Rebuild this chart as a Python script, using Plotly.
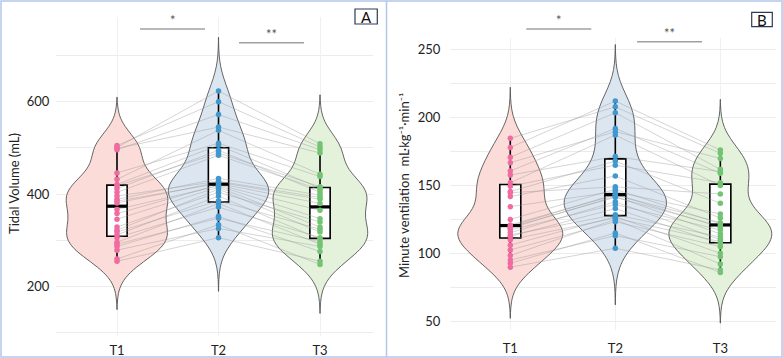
import numpy as np
import plotly.graph_objects as go

# ---------------- data ----------------
groups = ["T1", "T2", "T3"]

# Panel A: Tidal Volume (mL), one value per subject (same subject order in each list)
tv_t1 = [255, 260, 279, 287, 292, 296, 306, 312, 318, 322, 329, 346, 358, 367,
         381, 385, 389, 396, 404, 412, 418, 421, 432, 446, 496, 499, 501, 505]
tv_t2 = [306, 334, 326, 352, 348, 380, 372, 396, 386, 411, 404, 415, 420, 418,
         426, 423, 434, 428, 484, 495, 489, 506, 538, 510, 572, 545, 623, 600]
tv_t3 = [255, 248, 287, 276, 297, 292, 306, 303, 324, 318, 340, 329, 365, 347,
         389, 380, 398, 393, 410, 404, 416, 413, 443, 438, 496, 489, 509, 502]

# Panel B: Minute ventilation (mL·kg-1·min-1)
mv_t1 = [89.7, 92.6, 95, 98.3, 102.5, 106, 110, 112.5, 113.5, 115.2, 117.2, 118.5, 119.2, 120,
         120.9, 125, 134.4, 141.8, 144.7, 145.5, 149.5, 152, 157.7, 160.7, 166.8, 170.8, 178, 184.8]
mv_t2 = [103.7, 115, 113, 125, 123.3, 127, 126, 133, 128.5, 138, 136, 142, 141.3, 143.5,
         143, 147.2, 145.5, 157, 149, 168, 165, 187.2, 171.3, 192.1, 189.7, 203.7, 212.3, 208]
mv_t3 = [87.7, 85.8, 97.5, 92, 104.9, 100, 108.6, 107, 112, 110, 117.2, 114.3, 120, 119,
         122.6, 121.8, 129, 126, 143.7, 136.9, 152, 150, 160.2, 159, 170, 161.9, 176.2, 173.7]

sig_labels = ["*", "**"]
ytick_a = [200, 400, 600]
ytick_b = [50, 100, 150, 200, 250]

# ---------------- styles ----------------
fill_cols = ["#FBDCD8", "#DCE6F1", "#E4F2DC"]
pt_cols = ["#F06CA0", "#4098CE", "#72C472"]
font_fam = "Lato, 'Open Sans', sans-serif"
grid_col = "#ECECEC"

W, H = 783, 358


def px_x(p):
    return p / W


def px_y(p):
    return (H - p) / H


fig = go.Figure()


def bw_nrd0(v):
    v = np.asarray(v, float)
    sd = v.std(ddof=1)
    iqr = np.subtract(*np.percentile(v, [75, 25]))
    return 0.9 * min(sd, iqr / 1.34) * len(v) ** -0.2


def add_panel(data, xa, ya, widths):
    positions = list(range(len(data)))
    # violins
    for i, v in enumerate(data):
        bw = bw_nrd0(v)
        fig.add_trace(go.Violin(
            y=v, x0=positions[i], xaxis=xa, yaxis=ya,
            bandwidth=bw, spanmode="manual", span=[min(v) - 3 * bw, max(v) + 3 * bw],
            scalemode="width", width=widths[i], points=False,
            fillcolor=fill_cols[i], line=dict(color="#555555", width=0.9),
            box_visible=False, meanline_visible=False, showlegend=False,
            hoverinfo="skip"))
    # boxes
    for i, v in enumerate(data):
        fig.add_trace(go.Box(
            y=v, x0=positions[i], xaxis=xa, yaxis=ya, width=0.2,
            fillcolor="white", line=dict(color="black", width=1.6),
            whiskerwidth=0, boxpoints=False, showlegend=False, hoverinfo="skip"))
    # paired lines
    n = len(data[0])
    for s in range(n):
        fig.add_trace(go.Scatter(
            x=positions, y=[d[s] for d in data], xaxis=xa, yaxis=ya,
            mode="lines", line=dict(color="rgba(150,150,150,0.4)", width=1),
            showlegend=False, hoverinfo="skip"))
    # medians
    for i, v in enumerate(data):
        m = float(np.median(v))
        fig.add_trace(go.Scatter(
            x=[positions[i] - 0.1, positions[i] + 0.1], y=[m, m], xaxis=xa, yaxis=ya,
            mode="lines", line=dict(color="black", width=3.2),
            showlegend=False, hoverinfo="skip"))
    # points
    for i, v in enumerate(data):
        fig.add_trace(go.Scatter(
            x=[positions[i]] * len(v), y=v, xaxis=xa, yaxis=ya, mode="markers",
            marker=dict(color=pt_cols[i], size=5.5, line=dict(width=0)),
            showlegend=False, hoverinfo="skip"))


add_panel([tv_t1, tv_t2, tv_t3], "x", "y", [1.0, 0.99, 0.94])
add_panel([mv_t1, mv_t2, mv_t3], "x2", "y2", [1.0, 0.97, 0.98])

tickfont = dict(family=font_fam, size=13, color="#222222")
xcommon = dict(tickmode="array", tickvals=[0, 1, 2], ticktext=groups, showgrid=True,
               gridcolor="#F0F0F0", gridwidth=1, zeroline=False, showline=False,
               tickfont=tickfont, ticks="outside", tickcolor="rgba(0,0,0,0)")

fig.update_layout(
    width=W, height=H, autosize=False,
    margin=dict(l=0, r=0, t=0, b=0),
    paper_bgcolor="white", plot_bgcolor="white",
    violinmode="overlay", boxmode="overlay", showlegend=False,
    xaxis=dict(domain=[px_x(56), px_x(373)], range=[-0.601, 2.522], anchor="y",
               ticklen=2, **xcommon),
    yaxis=dict(domain=[px_y(336), px_y(17)], range=[93.4, 783], anchor="x",
               tickmode="array", tickvals=ytick_a, showgrid=True, gridcolor=grid_col,
               gridwidth=1, zeroline=False, showline=False, tickfont=tickfont,
               ticks="outside", ticklen=3, tickcolor="rgba(0,0,0,0)",
               minor=dict(tickmode="linear", tick0=0, dtick=100, showgrid=True,
                          gridcolor=grid_col, gridwidth=1)),
    xaxis2=dict(domain=[px_x(450), px_x(776)], range=[-0.574, 2.53], anchor="y2",
                ticklen=6, **xcommon),
    yaxis2=dict(domain=[px_y(330), px_y(38)], range=[43.4, 258.8], anchor="x2",
                tickmode="array", tickvals=ytick_b, showgrid=True, gridcolor=grid_col,
                gridwidth=1, zeroline=False, showline=False, tickfont=tickfont,
                ticks="outside", ticklen=6, tickcolor="rgba(0,0,0,0)",
                minor=dict(tickmode="linear", tick0=0, dtick=25, showgrid=True,
                           gridcolor=grid_col, gridwidth=1)),
)

shapes = []
annotations = []

# outer border and divider
border = "#B4C7E7"
shapes.append(dict(type="rect", xref="paper", yref="paper", x0=px_x(1), x1=px_x(782),
                   y0=px_y(357), y1=px_y(1), line=dict(color=border, width=1.5)))
shapes.append(dict(type="line", xref="paper", yref="paper", x0=px_x(386.5), x1=px_x(386.5),
                   y0=px_y(357), y1=px_y(1), line=dict(color=border, width=1.5)))

# significance brackets
brackets = [("x", 0.227, 0.867, 29, 20, sig_labels[0]),
            ("x", 1.202, 1.842, 42.7, 33.5, sig_labels[1]),
            ("x2", 0.152, 0.771, 29, 20, sig_labels[0]),
            ("x2", 1.207, 1.826, 41.7, 32.5, sig_labels[1])]
for xr, a, b, yl, ys, lab in brackets:
    shapes.append(dict(type="line", xref=xr, yref="paper", x0=a, x1=b,
                       y0=px_y(yl), y1=px_y(yl), line=dict(color="#A0A0A0", width=1.5)))
    annotations.append(dict(xref=xr, yref="paper", x=(a + b) / 2, y=px_y(ys), text=lab,
                            showarrow=False, font=dict(family=font_fam, size=13, color="#555555"),
                            xanchor="center", yanchor="middle"))

# panel letters
for lab, x0, x1, y0, y1 in [("A", 355, 377.3, 9, 24), ("B", 751.7, 772.3, 12.3, 26.7)]:
    shapes.append(dict(type="rect", xref="paper", yref="paper", x0=px_x(x0), x1=px_x(x1),
                       y0=px_y(y1), y1=px_y(y0), line=dict(color="#2E3B55", width=1.2),
                       fillcolor="white"))
    annotations.append(dict(xref="paper", yref="paper", x=px_x((x0 + x1) / 2),
                            y=px_y((y0 + y1) / 2 + 0.5), text=lab, showarrow=False,
                            font=dict(family=font_fam, size=15, color="#111111"),
                            xanchor="center", yanchor="middle"))

# y-axis titles
annotations.append(dict(xref="paper", yref="paper", x=px_x(14), y=px_y(184),
                        text="Tidal Volume (mL)", textangle=-90, showarrow=False,
                        font=dict(family=font_fam, size=13, color="#222222"),
                        xanchor="center", yanchor="middle"))
annotations.append(dict(xref="paper", yref="paper", x=px_x(404), y=px_y(186),
                        text="Minute ventilation  mL·kg⁻¹·min⁻¹", textangle=-90,
                        showarrow=False,
                        font=dict(family=font_fam, size=13, color="#222222"),
                        xanchor="center", yanchor="middle"))

fig.update_layout(shapes=shapes, annotations=annotations)

fig.write_html("out.html")
